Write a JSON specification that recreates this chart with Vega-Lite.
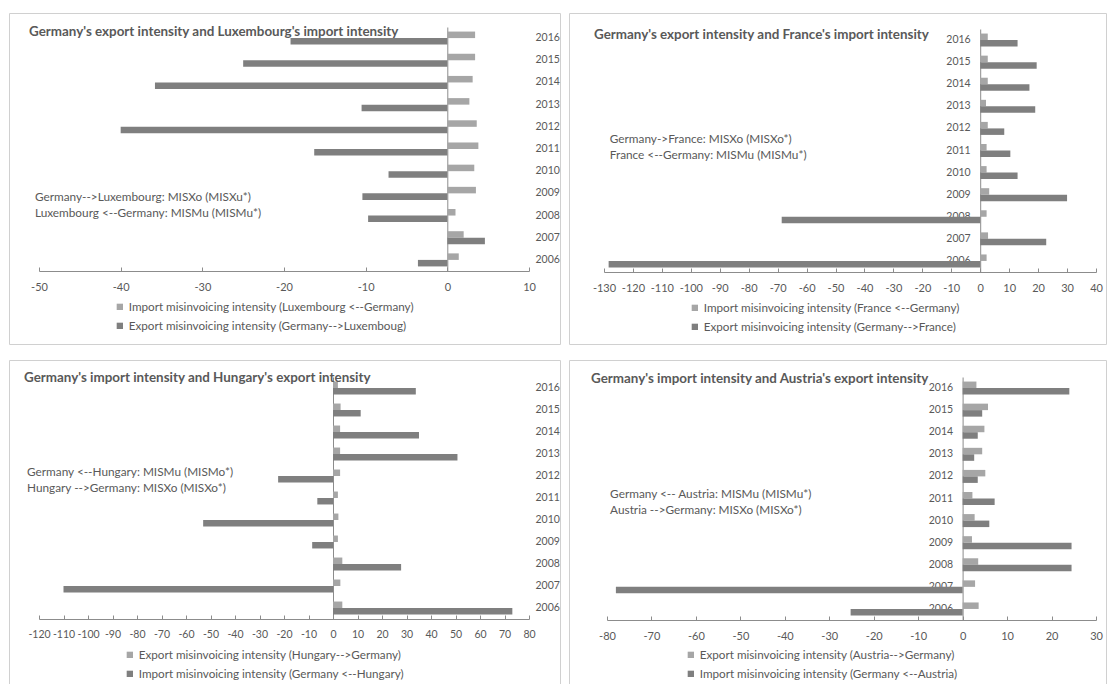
{
  "$schema": "https://vega.github.io/schema/vega-lite/v6.json",
  "background": "white",
  "padding": {"left": 8, "top": 12, "right": 0, "bottom": 0},
  "config": {
    "font": "Lato, sans-serif",
    "view": {"stroke": "#d0d0d0", "strokeWidth": 1},
    "axis": {"labelFontSize": 11, "labelColor": "#595959", "domainColor": "#8c8c8c", "tickColor": "#8c8c8c", "grid": false, "title": null, "labelOverlap": false, "labelFlush": false},
    "legend": {"symbolType": "square", "symbolSize": 40, "labelFontSize": 11.7, "labelColor": "#595959", "rowPadding": 6, "labelLimit": 0, "labelOffset": 3, "padding": 0},
    "title": {"fontSize": 13.4, "fontWeight": "bold", "color": "#595959", "anchor": "start", "frame": "group", "baseline": "middle"},
    "text": {"fontSize": 11.8, "color": "#595959"},
    "bar": {"stroke": null}
  },
  "columns": 2,
  "spacing": {"row": 14, "column": 7},
  "resolve": {"scale": {"color": "independent", "x": "independent", "y": "independent", "yOffset": "independent"}},
  "concat": [
    {
      "width": 551, "height": 331,
      "title": {"text": "Germany's export intensity and Luxembourg's import intensity", "offset": -25, "dx": 20},
      "data": {"values": [
        {"year": 2016, "series": "Import misinvoicing intensity (Luxembourg <--Germany)", "value": 3.4},
        {"year": 2015, "series": "Import misinvoicing intensity (Luxembourg <--Germany)", "value": 3.4},
        {"year": 2014, "series": "Import misinvoicing intensity (Luxembourg <--Germany)", "value": 3.1},
        {"year": 2013, "series": "Import misinvoicing intensity (Luxembourg <--Germany)", "value": 2.7},
        {"year": 2012, "series": "Import misinvoicing intensity (Luxembourg <--Germany)", "value": 3.6},
        {"year": 2011, "series": "Import misinvoicing intensity (Luxembourg <--Germany)", "value": 3.8},
        {"year": 2010, "series": "Import misinvoicing intensity (Luxembourg <--Germany)", "value": 3.3},
        {"year": 2009, "series": "Import misinvoicing intensity (Luxembourg <--Germany)", "value": 3.5},
        {"year": 2008, "series": "Import misinvoicing intensity (Luxembourg <--Germany)", "value": 1.0},
        {"year": 2007, "series": "Import misinvoicing intensity (Luxembourg <--Germany)", "value": 2.0},
        {"year": 2006, "series": "Import misinvoicing intensity (Luxembourg <--Germany)", "value": 1.4},
        {"year": 2016, "series": "Export misinvoicing intensity (Germany-->Luxemboug)", "value": -19.2},
        {"year": 2015, "series": "Export misinvoicing intensity (Germany-->Luxemboug)", "value": -25.0},
        {"year": 2014, "series": "Export misinvoicing intensity (Germany-->Luxemboug)", "value": -35.8},
        {"year": 2013, "series": "Export misinvoicing intensity (Germany-->Luxemboug)", "value": -10.5},
        {"year": 2012, "series": "Export misinvoicing intensity (Germany-->Luxemboug)", "value": -40.0},
        {"year": 2011, "series": "Export misinvoicing intensity (Germany-->Luxemboug)", "value": -16.3},
        {"year": 2010, "series": "Export misinvoicing intensity (Germany-->Luxemboug)", "value": -7.2},
        {"year": 2009, "series": "Export misinvoicing intensity (Germany-->Luxemboug)", "value": -10.4},
        {"year": 2008, "series": "Export misinvoicing intensity (Germany-->Luxemboug)", "value": -9.7},
        {"year": 2007, "series": "Export misinvoicing intensity (Germany-->Luxemboug)", "value": 4.6},
        {"year": 2006, "series": "Export misinvoicing intensity (Germany-->Luxemboug)", "value": -3.6}
      ]},
      "layer": [
        {
          "mark": {"type": "bar"},
          "encoding": {
            "x": {"field": "value", "type": "quantitative",
              "scale": {"domain": [-50, 10], "range": [30, 520], "nice": false, "zero": false},
              "axis": {"orient": "bottom", "offset": -73, "values": [-50, -40, -30, -20, -10, 0, 10], "labelExpr": "'' + datum.value", "tickSize": -4, "labelPadding": 14}},
            "y": {"field": "year", "type": "ordinal",
              "scale": {"domain": [2016, 2015, 2014, 2013, 2012, 2011, 2010, 2009, 2008, 2007, 2006], "range": [14, 258], "paddingInner": 0, "paddingOuter": 0},
              "axis": {"orient": "left", "offset": -438.3, "labels": false, "ticks": false, "domain": true}},
            "yOffset": {"field": "series", "type": "nominal",
              "scale": {"domain": ["Import misinvoicing intensity (Luxembourg <--Germany)", "Export misinvoicing intensity (Germany-->Luxemboug)"], "paddingInner": 0, "paddingOuter": 0.7}},
            "color": {"field": "series", "type": "nominal",
              "scale": {"domain": ["Import misinvoicing intensity (Luxembourg <--Germany)", "Export misinvoicing intensity (Germany-->Luxemboug)"], "range": ["#a6a6a6", "#7f7f7f"]},
              "legend": {"orient": "none", "legendX": 105, "legendY": 288, "title": null}}
          }
        },
        {
          "data": {"values": [{}]},
          "mark": {"type": "text", "align": "left", "baseline": "middle", "lineHeight": 16},
          "encoding": {
            "x": {"datum": -50.5, "type": "quantitative",
              "axis": {"orient": "bottom", "offset": -73, "values": [-50, -40, -30, -20, -10, 0, 10], "labelExpr": "'' + datum.value", "tickSize": -4, "labelPadding": 14}},
            "y": {"datum": 2009, "type": "ordinal", "bandPosition": 0.66,
              "axis": {"orient": "right", "offset": -25, "labels": true, "labelFontSize": 10.5, "ticks": false, "domain": false, "labelPadding": 0}},
            "text": {"value": ["Germany-->Luxembourg: MISXo (MISXu*)", "Luxembourg <--Germany: MISMu (MISMu*)"]}
          }
        }
      ],
      "resolve": {"axis": {"y": "independent"}}
    },
    {
      "width": 537, "height": 331,
      "title": {"text": "Germany's export intensity and France's import intensity", "offset": -28, "dx": 25},
      "data": {"values": [
        {"year": 2016, "series": "Import misinvoicing intensity (France <--Germany)", "value": 2.6},
        {"year": 2015, "series": "Import misinvoicing intensity (France <--Germany)", "value": 2.6},
        {"year": 2014, "series": "Import misinvoicing intensity (France <--Germany)", "value": 2.6},
        {"year": 2013, "series": "Import misinvoicing intensity (France <--Germany)", "value": 2.0},
        {"year": 2012, "series": "Import misinvoicing intensity (France <--Germany)", "value": 2.6},
        {"year": 2011, "series": "Import misinvoicing intensity (France <--Germany)", "value": 2.2},
        {"year": 2010, "series": "Import misinvoicing intensity (France <--Germany)", "value": 2.2},
        {"year": 2009, "series": "Import misinvoicing intensity (France <--Germany)", "value": 3.1},
        {"year": 2008, "series": "Import misinvoicing intensity (France <--Germany)", "value": 2.2},
        {"year": 2007, "series": "Import misinvoicing intensity (France <--Germany)", "value": 2.7},
        {"year": 2006, "series": "Import misinvoicing intensity (France <--Germany)", "value": 2.2},
        {"year": 2016, "series": "Export misinvoicing intensity (Germany-->France)", "value": 12.9},
        {"year": 2015, "series": "Export misinvoicing intensity (Germany-->France)", "value": 19.5},
        {"year": 2014, "series": "Export misinvoicing intensity (Germany-->France)", "value": 17.0},
        {"year": 2013, "series": "Export misinvoicing intensity (Germany-->France)", "value": 19.0},
        {"year": 2012, "series": "Export misinvoicing intensity (Germany-->France)", "value": 8.3},
        {"year": 2011, "series": "Export misinvoicing intensity (Germany-->France)", "value": 10.4},
        {"year": 2010, "series": "Export misinvoicing intensity (Germany-->France)", "value": 12.9},
        {"year": 2009, "series": "Export misinvoicing intensity (Germany-->France)", "value": 30.0},
        {"year": 2008, "series": "Export misinvoicing intensity (Germany-->France)", "value": -68.6},
        {"year": 2007, "series": "Export misinvoicing intensity (Germany-->France)", "value": 22.8},
        {"year": 2006, "series": "Export misinvoicing intensity (Germany-->France)", "value": -128.4}
      ]},
      "layer": [
        {
          "mark": {"type": "bar"},
          "encoding": {
            "x": {"field": "value", "type": "quantitative",
              "scale": {"domain": [-130, 40], "range": [35, 527], "nice": false, "zero": false},
              "axis": {"orient": "bottom", "offset": -72, "values": [-130, -120, -110, -100, -90, -80, -70, -60, -50, -40, -30, -20, -10, 0, 10, 20, 30, 40], "labelExpr": "'' + datum.value", "tickSize": -4, "labelPadding": 14}},
            "y": {"field": "year", "type": "ordinal",
              "scale": {"domain": [2016, 2015, 2014, 2013, 2012, 2011, 2010, 2009, 2008, 2007, 2006], "range": [16, 259], "paddingInner": 0, "paddingOuter": 0},
              "axis": {"orient": "left", "offset": -411.2, "labels": true, "labelFontSize": 10.5, "ticks": false, "domain": true, "labelPadding": 10}},
            "yOffset": {"field": "series", "type": "nominal",
              "scale": {"domain": ["Import misinvoicing intensity (France <--Germany)", "Export misinvoicing intensity (Germany-->France)"], "paddingInner": 0, "paddingOuter": 0.7}},
            "color": {"field": "series", "type": "nominal",
              "scale": {"domain": ["Import misinvoicing intensity (France <--Germany)", "Export misinvoicing intensity (Germany-->France)"], "range": ["#a6a6a6", "#7f7f7f"]},
              "legend": {"orient": "none", "legendX": 120, "legendY": 289, "title": null}}
          }
        },
        {
          "data": {"values": [{}]},
          "mark": {"type": "text", "align": "left", "baseline": "middle", "lineHeight": 16},
          "encoding": {
            "x": {"datum": -128, "type": "quantitative",
              "axis": {"orient": "bottom", "offset": -72, "values": [-130, -120, -110, -100, -90, -80, -70, -60, -50, -40, -30, -20, -10, 0, 10, 20, 30, 40], "labelExpr": "'' + datum.value", "tickSize": -4, "labelPadding": 14}},
            "y": {"datum": 2012, "type": "ordinal", "bandPosition": 0.98, "axis": null},
            "text": {"value": ["Germany->France: MISXo (MISXo*)", "France <--Germany: MISMu (MISMu*)"]}
          }
        }
      ],
      "resolve": {"axis": {"y": "independent"}}
    },
    {
      "width": 551, "height": 326,
      "title": {"text": "Germany's import intensity and Hungary's export intensity", "offset": -24, "dx": 15},
      "data": {"values": [
        {"year": 2016, "series": "Export misinvoicing intensity (Hungary-->Germany)", "value": 2.0},
        {"year": 2015, "series": "Export misinvoicing intensity (Hungary-->Germany)", "value": 3.1},
        {"year": 2014, "series": "Export misinvoicing intensity (Hungary-->Germany)", "value": 2.9},
        {"year": 2013, "series": "Export misinvoicing intensity (Hungary-->Germany)", "value": 2.9},
        {"year": 2012, "series": "Export misinvoicing intensity (Hungary-->Germany)", "value": 2.9},
        {"year": 2011, "series": "Export misinvoicing intensity (Hungary-->Germany)", "value": 2.0},
        {"year": 2010, "series": "Export misinvoicing intensity (Hungary-->Germany)", "value": 2.2},
        {"year": 2009, "series": "Export misinvoicing intensity (Hungary-->Germany)", "value": 2.0},
        {"year": 2008, "series": "Export misinvoicing intensity (Hungary-->Germany)", "value": 3.8},
        {"year": 2007, "series": "Export misinvoicing intensity (Hungary-->Germany)", "value": 3.0},
        {"year": 2006, "series": "Export misinvoicing intensity (Hungary-->Germany)", "value": 3.8},
        {"year": 2016, "series": "Import misinvoicing intensity (Germany <--Hungary)", "value": 33.8},
        {"year": 2015, "series": "Import misinvoicing intensity (Germany <--Hungary)", "value": 11.3},
        {"year": 2014, "series": "Import misinvoicing intensity (Germany <--Hungary)", "value": 35.1},
        {"year": 2013, "series": "Import misinvoicing intensity (Germany <--Hungary)", "value": 50.8},
        {"year": 2012, "series": "Import misinvoicing intensity (Germany <--Hungary)", "value": -22.4},
        {"year": 2011, "series": "Import misinvoicing intensity (Germany <--Hungary)", "value": -6.4},
        {"year": 2010, "series": "Import misinvoicing intensity (Germany <--Hungary)", "value": -53.0},
        {"year": 2009, "series": "Import misinvoicing intensity (Germany <--Hungary)", "value": -8.5},
        {"year": 2008, "series": "Import misinvoicing intensity (Germany <--Hungary)", "value": 27.8},
        {"year": 2007, "series": "Import misinvoicing intensity (Germany <--Hungary)", "value": -110.0},
        {"year": 2006, "series": "Import misinvoicing intensity (Germany <--Hungary)", "value": 73.2}
      ]},
      "layer": [
        {
          "mark": {"type": "bar"},
          "encoding": {
            "x": {"field": "value", "type": "quantitative",
              "scale": {"domain": [-120, 80], "range": [30, 520], "nice": false, "zero": false},
              "axis": {"orient": "bottom", "offset": -67, "values": [-120, -110, -100, -90, -80, -70, -60, -50, -40, -30, -20, -10, 0, 10, 20, 30, 40, 50, 60, 70, 80], "labelExpr": "'' + datum.value", "labelFontSize": 10.5, "tickSize": -4, "labelPadding": 14}},
            "y": {"field": "year", "type": "ordinal",
              "scale": {"domain": [2016, 2015, 2014, 2013, 2012, 2011, 2010, 2009, 2008, 2007, 2006], "range": [17, 259], "paddingInner": 0, "paddingOuter": 0},
              "axis": {"orient": "left", "offset": -324, "labels": false, "ticks": false, "domain": true}},
            "yOffset": {"field": "series", "type": "nominal",
              "scale": {"domain": ["Export misinvoicing intensity (Hungary-->Germany)", "Import misinvoicing intensity (Germany <--Hungary)"], "paddingInner": 0, "paddingOuter": 0.7}},
            "color": {"field": "series", "type": "nominal",
              "scale": {"domain": ["Export misinvoicing intensity (Hungary-->Germany)", "Import misinvoicing intensity (Germany <--Hungary)"], "range": ["#a6a6a6", "#7f7f7f"]},
              "legend": {"orient": "none", "legendX": 115, "legendY": 289, "title": null}}
          }
        },
        {
          "data": {"values": [{}]},
          "mark": {"type": "text", "align": "left", "baseline": "middle", "lineHeight": 16},
          "encoding": {
            "x": {"datum": -124.9, "type": "quantitative",
              "axis": {"orient": "bottom", "offset": -67, "values": [-120, -110, -100, -90, -80, -70, -60, -50, -40, -30, -20, -10, 0, 10, 20, 30, 40, 50, 60, 70, 80], "labelExpr": "'' + datum.value", "labelFontSize": 10.5, "tickSize": -4, "labelPadding": 14}},
            "y": {"datum": 2012, "type": "ordinal", "bandPosition": 0.3,
              "axis": {"orient": "right", "offset": -25, "labels": true, "labelFontSize": 10.5, "ticks": false, "domain": false, "labelPadding": 0}},
            "text": {"value": ["Germany <--Hungary: MISMu (MISMo*)", "Hungary -->Germany: MISXo (MISXo*)"]}
          }
        }
      ],
      "resolve": {"axis": {"y": "independent"}}
    },
    {
      "width": 537, "height": 326,
      "title": {"text": "Germany's import intensity and Austria's export intensity", "offset": -25, "dx": 22},
      "data": {"values": [
        {"year": 2016, "series": "Export misinvoicing intensity (Austria-->Germany)", "value": 3.1},
        {"year": 2015, "series": "Export misinvoicing intensity (Austria-->Germany)", "value": 5.7},
        {"year": 2014, "series": "Export misinvoicing intensity (Austria-->Germany)", "value": 4.9},
        {"year": 2013, "series": "Export misinvoicing intensity (Austria-->Germany)", "value": 4.4},
        {"year": 2012, "series": "Export misinvoicing intensity (Austria-->Germany)", "value": 5.1},
        {"year": 2011, "series": "Export misinvoicing intensity (Austria-->Germany)", "value": 2.2},
        {"year": 2010, "series": "Export misinvoicing intensity (Austria-->Germany)", "value": 2.7},
        {"year": 2009, "series": "Export misinvoicing intensity (Austria-->Germany)", "value": 2.1},
        {"year": 2008, "series": "Export misinvoicing intensity (Austria-->Germany)", "value": 3.5},
        {"year": 2007, "series": "Export misinvoicing intensity (Austria-->Germany)", "value": 2.8},
        {"year": 2006, "series": "Export misinvoicing intensity (Austria-->Germany)", "value": 3.6},
        {"year": 2016, "series": "Import misinvoicing intensity (Germany <--Austria)", "value": 24.0},
        {"year": 2015, "series": "Import misinvoicing intensity (Germany <--Austria)", "value": 4.4},
        {"year": 2014, "series": "Import misinvoicing intensity (Germany <--Austria)", "value": 3.4},
        {"year": 2013, "series": "Import misinvoicing intensity (Germany <--Austria)", "value": 2.6},
        {"year": 2012, "series": "Import misinvoicing intensity (Germany <--Austria)", "value": 3.4},
        {"year": 2011, "series": "Import misinvoicing intensity (Germany <--Austria)", "value": 7.2},
        {"year": 2010, "series": "Import misinvoicing intensity (Germany <--Austria)", "value": 6.0},
        {"year": 2009, "series": "Import misinvoicing intensity (Germany <--Austria)", "value": 24.5},
        {"year": 2008, "series": "Import misinvoicing intensity (Germany <--Austria)", "value": 24.5},
        {"year": 2007, "series": "Import misinvoicing intensity (Germany <--Austria)", "value": -78.0},
        {"year": 2006, "series": "Import misinvoicing intensity (Germany <--Austria)", "value": -25.2}
      ]},
      "layer": [
        {
          "mark": {"type": "bar"},
          "encoding": {
            "x": {"field": "value", "type": "quantitative",
              "scale": {"domain": [-80, 30], "range": [38, 527], "nice": false, "zero": false},
              "axis": {"orient": "bottom", "offset": -66, "values": [-80, -70, -60, -50, -40, -30, -20, -10, 0, 10, 20, 30], "labelExpr": "'' + datum.value", "tickSize": -4, "labelPadding": 14}},
            "y": {"field": "year", "type": "ordinal",
              "scale": {"domain": [2016, 2015, 2014, 2013, 2012, 2011, 2010, 2009, 2008, 2007, 2006], "range": [17, 260], "paddingInner": 0, "paddingOuter": 0},
              "axis": {"orient": "left", "offset": -393.6, "labels": true, "labelFontSize": 10.5, "ticks": false, "domain": true, "labelPadding": 10}},
            "yOffset": {"field": "series", "type": "nominal",
              "scale": {"domain": ["Export misinvoicing intensity (Austria-->Germany)", "Import misinvoicing intensity (Germany <--Austria)"], "paddingInner": 0, "paddingOuter": 0.7}},
            "color": {"field": "series", "type": "nominal",
              "scale": {"domain": ["Export misinvoicing intensity (Austria-->Germany)", "Import misinvoicing intensity (Germany <--Austria)"], "range": ["#a6a6a6", "#7f7f7f"]},
              "legend": {"orient": "none", "legendX": 116, "legendY": 289, "title": null}}
          }
        },
        {
          "data": {"values": [{}]},
          "mark": {"type": "text", "align": "left", "baseline": "middle", "lineHeight": 16},
          "encoding": {
            "x": {"datum": -79.3, "type": "quantitative",
              "axis": {"orient": "bottom", "offset": -66, "values": [-80, -70, -60, -50, -40, -30, -20, -10, 0, 10, 20, 30], "labelExpr": "'' + datum.value", "tickSize": -4, "labelPadding": 14}},
            "y": {"datum": 2011, "type": "ordinal", "bandPosition": 0.3, "axis": null},
            "text": {"value": ["Germany <-- Austria: MISMu (MISMu*)", "Austria -->Germany: MISXo (MISXo*)"]}
          }
        }
      ],
      "resolve": {"axis": {"y": "independent"}}
    }
  ]
}
